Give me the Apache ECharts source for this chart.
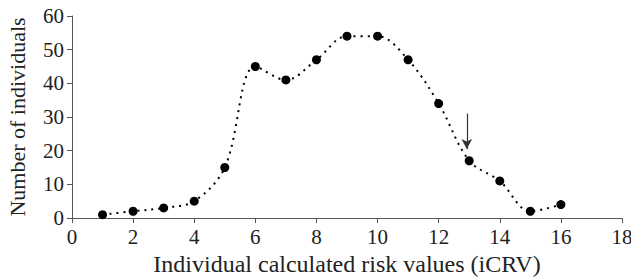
<!DOCTYPE html>
<html>
<head>
<meta charset="utf-8">
<script src="https://cdn.jsdelivr.net/npm/echarts@6/dist/echarts.min.js"></script>
<style>
  html, body { margin: 0; padding: 0; background: #fff; }
  #chart { width: 631px; height: 277px; }
</style>
</head>
<body>
<div id="chart"></div>
<script>
// risk value (iCRV) vs count of individuals
const crv = [1, 2, 3, 4, 5, 6, 7, 8, 9, 10, 11, 12, 13, 14, 15, 16]
const individuals = [1, 2, 3, 5, 15, 45, 41, 47, 54, 54, 47, 34, 17, 11, 2, 4]
// arrow annotation, from / to in data units
const arrowFrom = [12.92, 31]
const arrowTo = [12.92, 20.5]

const serif = 'Liberation Serif, Times New Roman, serif'
const chart = echarts.init(document.getElementById('chart'), null, { renderer: 'svg' })

chart.setOption({
  animation: false,
  textStyle: { fontFamily: serif, color: '#222' },
  grid: { left: 72, right: 9, top: 16, bottom: 59, containLabel: false, outerBoundsMode: 'none' },
  xAxis: {
    type: 'value', min: 0, max: 18, interval: 2,
    name: 'Individual calculated risk values (iCRV)',
    nameLocation: 'middle', nameGap: 32,
    nameTextStyle: { fontFamily: serif, fontSize: 24, color: '#222' },
    axisLine: { lineStyle: { color: '#555', width: 1 } },
    axisTick: { show: true, length: 5, lineStyle: { color: '#555' } },
    axisLabel: { fontFamily: serif, fontSize: 21, color: '#222', margin: 8 },
    splitLine: { show: false },
  },
  yAxis: {
    type: 'value', min: 0, max: 60, interval: 10,
    name: 'Number of individuals',
    nameLocation: 'middle', nameGap: 44,
    nameTextStyle: { fontFamily: serif, fontSize: 22, color: '#222' },
    axisLine: { show: true, lineStyle: { color: '#555', width: 1 } },
    axisTick: { show: true, length: 5, lineStyle: { color: '#555' } },
    axisLabel: { fontFamily: serif, fontSize: 21, color: '#222', margin: 8 },
    splitLine: { show: false },
  },
  series: [{
    type: 'line',
    data: crv.map((x, i) => [x, individuals[i]]),
    smooth: 0.35,
    symbol: 'circle', symbolSize: 9,
    itemStyle: { color: '#000' },
    lineStyle: { color: '#000', width: 2, type: [2, 5] },
    markLine: {
      silent: true,
      symbol: ['none', 'arrow'], symbolSize: [8, 10],
      label: { show: false },
      lineStyle: { color: '#333', width: 1.2, type: 'solid' },
      data: [[{ coord: arrowFrom }, { coord: arrowTo }]],
    },
  }],
})
</script>
</body>
</html>
